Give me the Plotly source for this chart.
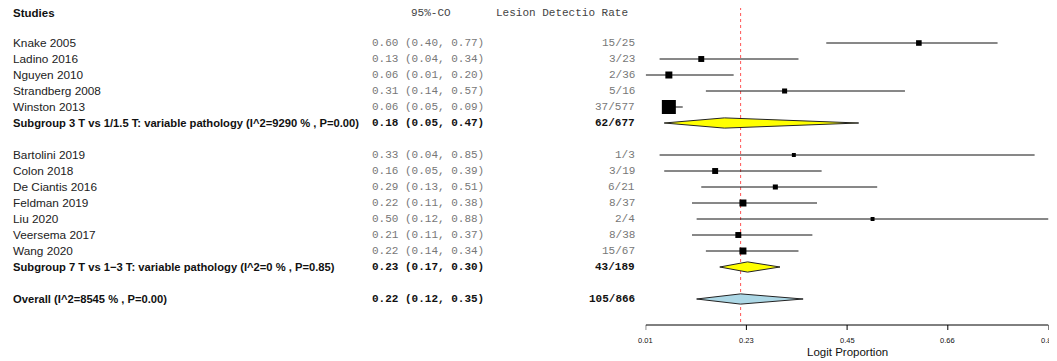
import plotly.graph_objects as go
import math

# ---------------- data ----------------
studies = ["Knake 2005", "Ladino 2016", "Nguyen 2010", "Strandberg 2008", "Winston 2013",
           "Bartolini 2019", "Colon 2018", "De Ciantis 2016", "Feldman 2019", "Liu 2020",
           "Veersema 2017", "Wang 2020"]
study_group = [1, 1, 1, 1, 1, 2, 2, 2, 2, 2, 2, 2]
est = [0.60, 0.13, 0.06, 0.31, 0.06, 0.33, 0.16, 0.29, 0.22, 0.50, 0.21, 0.22]
lo = [0.40, 0.04, 0.01, 0.14, 0.05, 0.04, 0.05, 0.13, 0.11, 0.12, 0.11, 0.14]
hi = [0.77, 0.34, 0.20, 0.57, 0.09, 0.85, 0.39, 0.51, 0.38, 0.88, 0.37, 0.34]
events = ["15/25", "3/23", "2/36", "5/16", "37/577", "1/3", "3/19", "6/21", "8/37", "2/4",
          "8/38", "15/67"]
weights = [16, 18, 25, 13, 100, 8, 18, 13, 25, 8, 18, 25]

sub_labels = ["Subgroup 3 T vs 1/1.5 T: variable pathology (I^2=9290 % , P=0.00)",
              "Subgroup 7 T vs 1\u22123 T: variable pathology (I^2=0 % , P=0.85)"]
sub_est = [0.18, 0.23]
sub_lo = [0.05, 0.17]
sub_hi = [0.47, 0.30]
sub_events = ["62/677", "43/189"]

overall_label = "Overall (I^2=8545 % , P=0.00)"
overall_est = 0.215
overall_est_text = "0.22"
overall_lo = 0.12
overall_hi = 0.35
overall_events = "105/866"

tick_labels = ["0.01", "0.23", "0.45", "0.66", "0.88"]
x_min, x_max = 0.01, 0.88
x_title = "Logit Proportion"

# ---------------- layout helpers ----------------
OFF = 8  # default page body margin
W, H = 1057, 361
def px(x):
    return (x - OFF) / W
def py(y):
    return 1 - (y - OFF) / H

# row positions
rows = []
r = 1
sub_rows = []
for g in (1, 2):
    idx = [i for i, gg in enumerate(study_group) if gg == g]
    for i in idx:
        rows.append(r)
        r += 1
    sub_rows.append(r)
    r += 2
overall_row = r
header_row = -0.875
row_px = 16.0
y_top = 1 - (43 - OFF) / row_px
y_bottom = y_top + H / row_px

fig = go.Figure()

sans = "Liberation Sans, Arial, sans-serif"
mono = "Liberation Mono, Courier New, monospace"

# CI lines
for i in range(len(studies)):
    fig.add_trace(go.Scatter(x=[lo[i], hi[i]], y=[rows[i], rows[i]], mode="lines",
                             line=dict(color="#111111", width=1), showlegend=False,
                             hoverinfo="skip", cliponaxis=False))
# squares
wmax = max(weights)
sizes = [14 * math.sqrt(w / wmax) for w in weights]
fig.add_trace(go.Scatter(x=est, y=rows, mode="markers",
                         marker=dict(symbol="square", color="#000000", size=sizes,
                                     line=dict(width=0), opacity=1),
                         showlegend=False, cliponaxis=False))

# diamonds
dh = 0.32
def diamond(e, l, h, y, fill):
    fig.add_trace(go.Scatter(x=[l, e, h, e, l], y=[y, y - dh, y, y + dh, y],
                             mode="lines", fill="toself", fillcolor=fill,
                             line=dict(color="#222222", width=1), showlegend=False,
                             hoverinfo="skip", cliponaxis=False))
for k in range(2):
    diamond(sub_est[k], sub_lo[k], sub_hi[k], sub_rows[k], "#ffff00")
diamond(overall_est, overall_lo, overall_hi, overall_row, "#add8e6")

axis_y = 1 - (43 - OFF) / row_px + (325 - OFF) / row_px  # row value at the axis line

# reference line
fig.add_shape(type="line", xref="x", yref="y", x0=overall_est, x1=overall_est,
              y0=-1.25, y1=axis_y, line=dict(color="#ff5555", width=1,
                                             dash="3px,3px"), layer="below")
# axis line and ticks
tick_vals = [x_min + k * (x_max - x_min) / (len(tick_labels) - 1) for k in range(len(tick_labels))]
fig.add_shape(type="line", xref="x", yref="y", x0=x_min, x1=x_max, y0=axis_y, y1=axis_y,
              line=dict(color="black", width=1))
for tv in tick_vals:
    fig.add_shape(type="line", xref="x", yref="y", x0=tv, x1=tv, y0=axis_y,
                  y1=axis_y + 5 / row_px, line=dict(color="black", width=1))

ann = []
def text(x, y, s, font, size, color, anchor="left", bold=False):
    if bold:
        s = "<b>" + s + "</b>"
    ann.append(dict(x=px(x), y=y, xref="paper", yref="y", text=s, showarrow=False,
                    xanchor=anchor, yanchor="middle", borderpad=0,
                    font=dict(family=font, size=size, color=color)))

# headers
text(12, header_row, "Studies", sans, 11.5, "#111111", bold=True)
text(410, header_row, "95%-CO", mono, 11, "#444444")
text(495, header_row, "Lesion Detectio Rate", mono, 11, "#444444")

def ci_str(e, l, h):
    return f"{e:.2f} ({l:.2f}, {h:.2f})"

for i in range(len(studies)):
    text(12, rows[i], studies[i], sans, 11.8, "#222222")
    text(371, rows[i], ci_str(est[i], lo[i], hi[i]), mono, 11, "#777777")
    text(636, rows[i], events[i], mono, 11, "#777777", anchor="right")
for k in range(2):
    text(12, sub_rows[k], sub_labels[k], sans, 11.2, "#111111", bold=True)
    text(371, sub_rows[k], ci_str(sub_est[k], sub_lo[k], sub_hi[k]), mono, 11, "#111111", bold=True)
    text(636, sub_rows[k], sub_events[k], mono, 11, "#111111", anchor="right", bold=True)
text(12, overall_row, overall_label, sans, 11.2, "#111111", bold=True)
text(371, overall_row, f"{overall_est_text} ({overall_lo:.2f}, {overall_hi:.2f})", mono, 11, "#111111", bold=True)
text(636, overall_row, overall_events, mono, 11, "#111111", anchor="right", bold=True)

# tick labels and axis title as annotations
for tv, tl in zip(tick_vals, tick_labels):
    ann.append(dict(x=tv, y=py(340), xref="x", yref="paper", text=tl, showarrow=False,
                    xanchor="center", yanchor="middle", borderpad=0,
                    font=dict(family=sans, size=7.5, color="#111111")))
ann.append(dict(x=(x_min + x_max) / 2, y=py(352), xref="x", yref="paper", text=x_title,
                showarrow=False, xanchor="center", yanchor="middle", borderpad=0,
                font=dict(family=sans, size=11.5, color="#111111")))

fig.update_layout(
    width=W, height=H, margin=dict(l=0, r=0, t=0, b=0, autoexpand=False),
    paper_bgcolor="white", plot_bgcolor="white",
    annotations=ann,
    xaxis=dict(domain=[px(645.7), px(1048.5)], range=[x_min, x_max], visible=False,
               showgrid=False, zeroline=False, automargin=False),
    yaxis=dict(domain=[0, 1], range=[y_bottom, y_top], visible=False,
               showgrid=False, zeroline=False, automargin=False),
)

fig.write_html("out.html")
